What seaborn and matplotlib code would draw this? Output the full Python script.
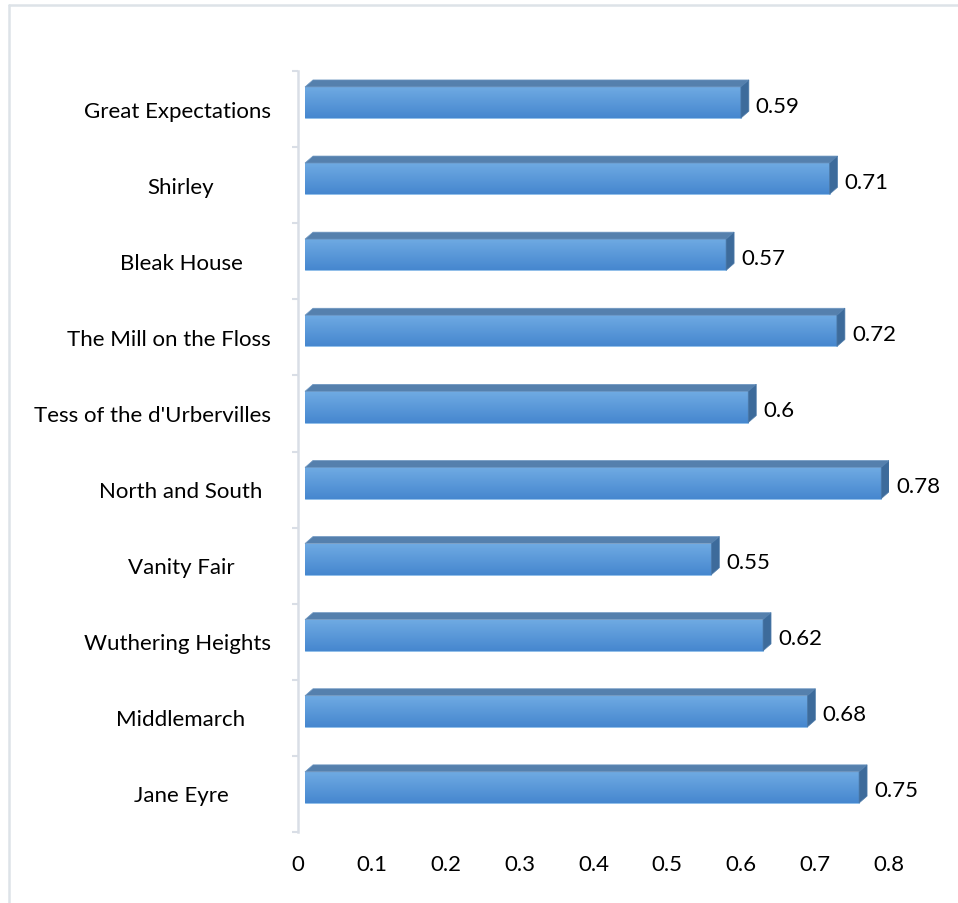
import numpy as np
import pandas as pd
import matplotlib
matplotlib.use("Agg")
import matplotlib.pyplot as plt
import matplotlib.transforms as mtransforms
from matplotlib.patches import Polygon
from matplotlib.lines import Line2D
import seaborn as sns

# Novels and their scores, listed top to bottom
novels = [
    "Great Expectations",
    "Shirley",
    "Bleak House",
    "The Mill on the Floss",
    "Tess of the d'Urbervilles",
    "North and South",
    "Vanity Fair",
    "Wuthering Heights",
    "Middlemarch",
    "Jane Eyre",
]
scores = [0.59, 0.71, 0.57, 0.72, 0.60, 0.78, 0.55, 0.62, 0.68, 0.75]
x_ticks = [0, 0.1, 0.2, 0.3, 0.4, 0.5, 0.6, 0.7, 0.8]
x_tick_labels = ["0", "0.1", "0.2", "0.3", "0.4", "0.5", "0.6", "0.7", "0.8"]

df = pd.DataFrame({"novel": novels, "score": scores})

sns.set_theme(style="white")
plt.rcParams["font.family"] = ["Lato", "DejaVu Sans"]

FS = 16
DPI = 100
W, H = 958, 904
fig = plt.figure(figsize=(W / DPI, H / DPI), dpi=DPI)
fig.patch.set_facecolor("white")

# plot area in pixels
AX_L, AX_R, AX_T, AX_B = 298, 889, 72, 833
ax = fig.add_axes([AX_L / W, (H - AX_B) / H, (AX_R - AX_L) / W, (AX_B - AX_T) / H])

BAR_W = 0.41
sns.barplot(data=df, x="score", y="novel", orient="h", width=BAR_W,
            color="#5b9bd5", ax=ax, zorder=3)
ax.set_xlim(0, 0.8)
ax.set_ylim(len(novels) - 0.5, -0.5)

px_x = 0.8 / (AX_R - AX_L)            # data units per pixel (x)
px_y = len(novels) / (AX_B - AX_T)    # data units per pixel (y)

# front faces sit slightly right of and above their category slot
shift = mtransforms.ScaledTranslation(7 / DPI, 6.5 / DPI, fig.dpi_scale_trans)
front_tr = ax.transData + shift

grad = np.linspace(0, 1, 64)[:, None]
c_top = np.array(matplotlib.colors.to_rgb("#70abe3"))
c_bot = np.array(matplotlib.colors.to_rgb("#4687cf"))
grad_img = (c_top[None, None, :] * (1 - grad[..., None]) + c_bot[None, None, :] * grad[..., None])

DEPTH_X, DEPTH_Y = 8 * px_x, 7 * px_y

for patch in list(ax.patches):
    x0 = patch.get_x()
    x1 = x0 + patch.get_width()
    y0 = patch.get_y()
    y1 = y0 + patch.get_height()
    yt, yb = min(y0, y1), max(y0, y1)   # yt is the upper edge on screen
    patch.set_transform(front_tr)
    patch.set_facecolor("#5b9bd5")
    patch.set_edgecolor("#8dbde9")
    patch.set_linewidth(0.6)

    im = ax.imshow(grad_img, extent=(x0, x1, yb, yt), origin="upper",
                   aspect="auto", transform=front_tr, zorder=3.5,
                   interpolation="bilinear")
    im.set_clip_path(patch)

    top_face = Polygon([(x0, yt), (x0 + DEPTH_X, yt - DEPTH_Y),
                        (x1 + DEPTH_X, yt - DEPTH_Y), (x1, yt)],
                       closed=True, facecolor="#5580ad", edgecolor="#6e97c2",
                       linewidth=0.5, transform=front_tr, zorder=3.6)
    side_face = Polygon([(x1, yt), (x1 + DEPTH_X, yt - DEPTH_Y),
                         (x1 + DEPTH_X, yb - DEPTH_Y), (x1, yb)],
                        closed=True, facecolor="#3d6b9b", edgecolor="#4e7cab",
                        linewidth=0.5, transform=front_tr, zorder=3.6)
    ax.add_patch(top_face)
    ax.add_patch(side_face)

# value labels after each bar
for i, v in enumerate(scores):
    ax.annotate(f"{v:g}", xy=(v, i), xycoords=front_tr,
                xytext=(15 / DPI * 72, -3 / DPI * 72), textcoords="offset points",
                ha="left", va="center", fontsize=FS, color="black", zorder=5)

# axes styling
for s in ["top", "right", "bottom"]:
    ax.spines[s].set_visible(False)
ax.spines["left"].set_color("#d9dee6")
ax.spines["left"].set_linewidth(1.8)
ax.set_xticks(x_ticks)
ax.set_xticklabels(x_tick_labels)
ax.tick_params(axis="x", length=0, pad=16, labelsize=FS, labelcolor="black")
ax.set_yticks(range(len(novels)))
ax.set_yticklabels([])
ax.set_yticks(np.arange(-0.5, len(novels), 1.0), minor=True)
ax.tick_params(axis="y", which="major", length=0)
ax.tick_params(axis="y", which="minor", length=6 * 72 / DPI, width=1.5,
               color="#d9dee6", left=True)
ax.set_xlabel("")
ax.set_ylabel("")
ax.grid(False)

# category labels, centred in a box ending just left of the axis
renderer = fig.canvas.get_renderer()
LAB_C, LAB_R = 181, 271
band = (AX_B - AX_T) / len(novels)
for i, name in enumerate(novels):
    yc = H - (AX_T + band * (i + 0.5) + 1.5)
    t = fig.text(LAB_C / W, yc / H, name, ha="center", va="center",
                 fontsize=FS, color="black")
    bb = t.get_window_extent(renderer)
    if bb.x1 > LAB_R:
        t.set_ha("right")
        t.set_x(LAB_R / W)

# light frame around the chart area
fig.add_artist(Line2D([9 / W, 1.0], [1 - 6 / H, 1 - 6 / H], color="#dde3e8",
                      linewidth=1.8, transform=fig.transFigure))
fig.add_artist(Line2D([9 / W, 9 / W], [0, 1 - 6 / H], color="#dde3e8",
                      linewidth=1.8, transform=fig.transFigure))

fig.savefig("out.png", dpi=DPI, facecolor="white")
